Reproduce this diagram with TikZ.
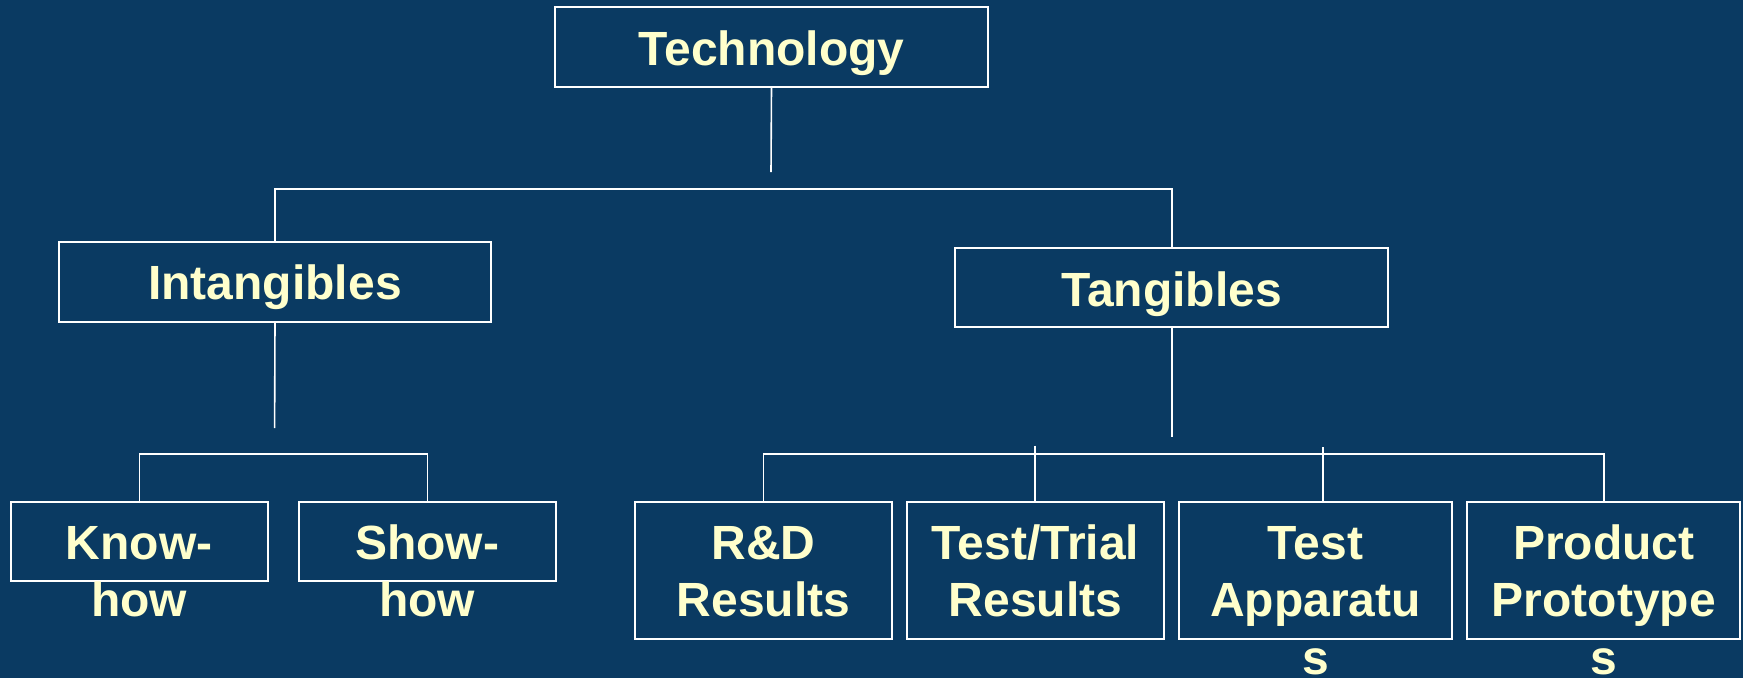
\documentclass[tikz,border=0pt]{standalone}
\usepackage{fontspec}
\setmainfont{Liberation Sans}

\definecolor{slidebg}{HTML}{0A3A62}
\definecolor{labelfg}{HTML}{FFFFCC}

% centred lines whose first baseline is the baseline of the whole block
\newcommand\nodelines[1]{\begin{tabular}[t]{@{}c@{}}#1\end{tabular}}

\begin{document}
\begin{tikzpicture}[x=1pt,y=-1pt,
  box/.style={draw=white, line width=2pt, inner sep=0pt, outer sep=0pt},
  lbl/.style={text=labelfg, font=\fontsize{48}{57.5}\selectfont\bfseries,
              inner sep=0pt, outer sep=0pt, anchor=base},
  link/.style={draw=white, line width=1.6pt}]

% background and page size
\fill[slidebg] (0,0) rectangle (1743,678);
\useasboundingbox (0,0) rectangle (1743,678);

% level 0
\node[box, minimum width=433pt, minimum height=79.4pt] (tech) at (771.5,47) {};
% level 1
\node[box, minimum width=432pt, minimum height=79.7pt] (intang) at (275,282.2) {};
\node[box, minimum width=433.3pt, minimum height=79pt] (tang) at (1171.7,287.8) {};
% level 2, intangibles
\node[box, minimum width=256.7pt, minimum height=79.3pt] (know) at (139.3,541.3) {};
\node[box, minimum width=256.5pt, minimum height=79.3pt] (show) at (427.3,541.3) {};
% level 2, tangibles
\node[box, minimum width=257pt, minimum height=137.3pt] (rd) at (763.5,570.3) {};
\node[box, minimum width=257pt, minimum height=137.3pt] (trial) at (1035.5,570.3) {};
\node[box, minimum width=273pt, minimum height=137.3pt] (app) at (1315.5,570.3) {};
\node[box, minimum width=272.7pt, minimum height=137.3pt] (prod) at (1603.7,570.3) {};

% labels
\node[lbl] (tech-t)   at ([yshift=-58.4pt]tech.north)   {Technology};
\node[lbl] (intang-t) at ([yshift=-57pt]intang.north)   {Intangibles};
\node[lbl] (tang-t)   at ([yshift=-57.7pt]tang.north)   {Tangibles};
\node[lbl] (know-t)   at ([yshift=-57.5pt]know.north)   {\nodelines{Know-\\how}};
\node[lbl] (show-t)   at ([yshift=-57.5pt]show.north)   {\nodelines{Show-\\how}};
\node[lbl] (rd-t)     at ([yshift=-57.5pt]rd.north)     {\nodelines{R\&D\\Results}};
\node[lbl] (trial-t)  at ([yshift=-57.5pt]trial.north)  {\nodelines{Test/Trial\\Results}};
\node[lbl] (app-t)    at ([yshift=-57.5pt]app.north)    {\nodelines{Test\\Apparatu\\s}};
\node[lbl] (prod-t)   at ([yshift=-57.5pt]prod.north)   {\nodelines{Product\\Prototype\\s}};

% loose ends and bar heights
\coordinate (tech-end)   at (771,172);
\coordinate (top-bar)    at (771,189);
\coordinate (intang-end) at (274.6,428);
\coordinate (left-bar)   at (283,454);
\coordinate (tang-end)   at (1171.7,436.7);
\coordinate (right-bar)  at (1180,454);
\coordinate (trial-tick) at (1035,445.5);
\coordinate (app-tick)   at (1323,447.3);

% connectors
\draw[link] (tech.south) -- (tech-end);
\draw[link] (intang.north) |- (top-bar) -| (tang.north);
\draw[link] (intang.south) -- (intang-end);
\draw[link] (know.north) |- (left-bar) -| (show.north);
\draw[link] (tang.south) -- (tang-end);
\draw[link] (rd.north) |- (right-bar) -| (prod.north);
\draw[link] (trial-tick) -- (trial-tick |- trial.north);
\draw[link] (app-tick) -- (app-tick |- app.north);
\end{tikzpicture}
\end{document}
